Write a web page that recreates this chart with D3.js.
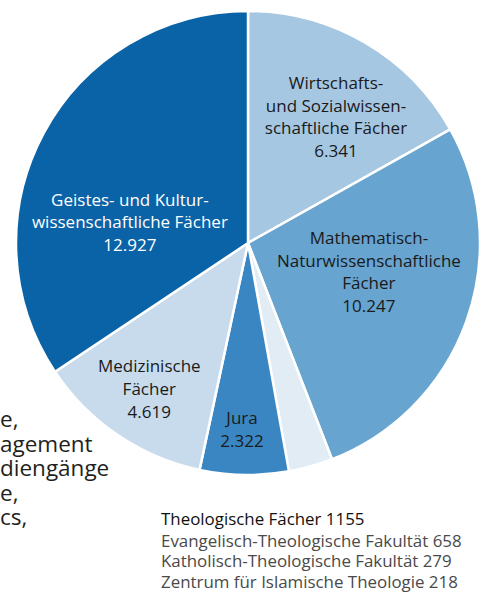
<!DOCTYPE html>
<html><head><meta charset="utf-8">
<script src="https://cdn.jsdelivr.net/npm/d3@7"></script>
<style>body{margin:0;background:#fff}svg{display:block}</style>
</head><body>
<script>
const categories = ["Wirtschafts- und Sozialwissenschaftliche Fächer","Mathematisch-Naturwissenschaftliche Fächer","Theologische Fächer","Jura","Medizinische Fächer","Geistes- und Kulturwissenschaftliche Fächer"];
const values = [6341, 10247, 1155, 2322, 4619, 12927];
const valueLabels = ["6.341","10.247","","2.322","4.619","12.927"];
const labelLines = [["Wirtschafts-","und Sozialwissen-","schaftliche Fächer"],["Mathematisch-","Naturwissenschaftliche","Fächer"],[],["Jura"],["Medizinische","Fächer"],["Geistes- und Kultur-","wissenschaftliche Fächer"]];
const colors = ["#a5c7e2","#67a4d0","#e2ecf5","#3a86c3","#c7dbed","#0a63a7"];
const theoTitle = "Theologische Fächer 1155";
const theoParts = ["Evangelisch-Theologische Fakultät","Katholisch-Theologische Fakultät","Zentrum für Islamische Theologie"];
const theoValues = [658, 279, 218];
const sideText = ["e,","agement","diengänge","e,","cs,"];

// label layout: angular offset from slice middle (degrees) and radius fraction
const labelLayout = [
  {da: 4.6, rf: 0.662},
  {da: -6.2, rf: 0.536},
  null,
  {da: 0.9, rf: 0.804},
  {da: -0.1, rf: 0.760},
  {da: -18.1, rf: 0.517}
];

const W = 488, H = 592;
const svg = d3.select("body").append("svg").attr("width", W).attr("height", H);
const font = "'Open Sans', 'Noto Sans', sans-serif";

// partially visible body text on the left
svg.append("g").selectAll("text").data(sideText).join("text")
  .attr("x", 0).attr("y", (d,i) => 427 + i*24.5)
  .attr("font-family", font).attr("font-size", 22.5).attr("fill", "#231f20")
  .text(d => d);

const cx = 248, cy = 243, R = 232;
const pie = d3.pie().sort(null).value(d => d)(values);
const arc = d3.arc().innerRadius(0).outerRadius(R);
const g = svg.append("g").attr("transform", `translate(${cx},${cy})`);
g.selectAll("path").data(pie).join("path")
  .attr("d", arc).attr("fill", (d,i) => colors[i])
  .attr("stroke", "#fff").attr("stroke-width", 2.5).attr("stroke-linejoin","round");

const lineH = 22.6;
pie.forEach((p, i) => {
  const L = labelLayout[i];
  if (!L) return;
  const lines = labelLines[i].concat([valueLabels[i]]);
  const a = (p.startAngle + p.endAngle) / 2 + L.da * Math.PI / 180;
  const lr = R * L.rf;
  const x = Math.sin(a) * lr, y = -Math.cos(a) * lr;
  const t = g.append("text").attr("text-anchor", "middle")
    .attr("font-family", font).attr("font-size", 17)
    .attr("fill", i === 5 ? "#ffffff" : "#1a1a1a");
  lines.forEach((l, k) => {
    t.append("tspan").attr("x", x).attr("y", y + (k - (lines.length-1)/2) * lineH + 6).text(l);
  });
});

// theology breakdown
const leg = svg.append("g").attr("font-family", font).attr("font-size", 16.9);
leg.append("text").attr("x", 161).attr("y", 525).attr("fill", "#111").attr("font-weight", 500).text(theoTitle);
leg.selectAll("text.p").data(theoParts).join("text").attr("class","p")
  .attr("x", 161).attr("y", (d,i) => 546.5 + i*20.8).attr("fill", "#4a4a4a")
  .text((d,i) => d + " " + theoValues[i]);
</script>
</body></html>
